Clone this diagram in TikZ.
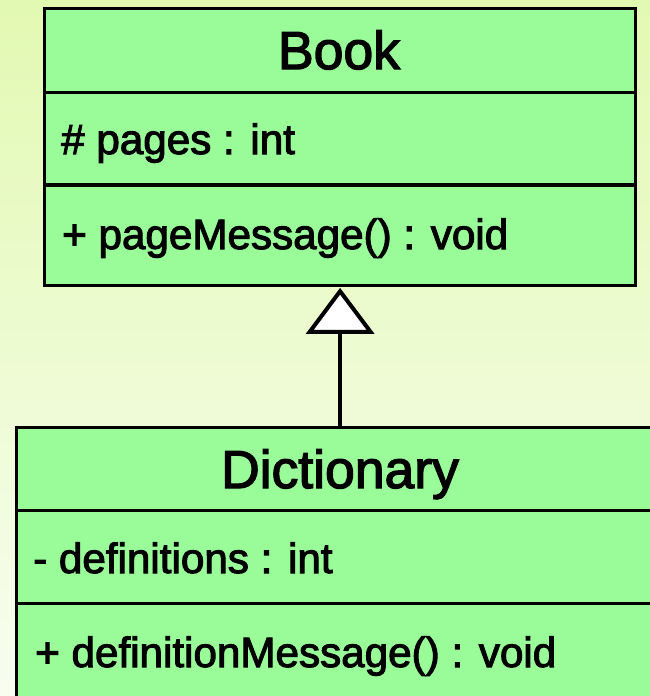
\documentclass[tikz,border=0pt]{standalone}
\usepackage{fontspec}
\setmainfont[FakeBold=2.5]{Liberation Sans}
\usetikzlibrary{arrows.meta}
\definecolor{classfill}{HTML}{99FC99}
\definecolor{bgtop}{HTML}{E2F9B2}
\definecolor{bgbottom}{HTML}{F8FDF0}
\tikzset{
  classbox/.style={draw=black, line width=3.6pt, fill=classfill, rectangle, inner sep=0pt, anchor=north west},
  divider/.style={draw=black, line width=3.4pt},
  classname/.style={anchor=base, inner sep=0pt, font=\fontsize{53.5}{60}\selectfont},
  member/.style={anchor=base west, inner sep=0pt, font=\fontsize{42.2}{50}\selectfont},
  inherits/.style={draw=black, line width=4pt, shorten >=0.5pt,
    -{Triangle[length=46pt, width=68pt, fill=white, line join=miter]}},
}
\begin{document}
\begin{tikzpicture}[x=1pt, y=-1pt]
  \useasboundingbox (0,0) rectangle (650,696);
  \clip (0,0) rectangle (650,696);
  \shade[top color=bgtop, bottom color=bgbottom] (0,0) rectangle (650,696);

  % superclass
  \node[classbox, minimum width=591pt, minimum height=277pt] (book) at (42.8,6.8) {};
  \draw[divider] ([yshift=-85.5pt]book.north west) -- ([yshift=-85.5pt]book.north east);
  \draw[divider] ([yshift=-178pt]book.north west) -- ([yshift=-178pt]book.north east);
  \node[classname] (bookname) at (339,69) {Book};
  \node[member] (bookattr) at (61,154) {\# pages : int};
  \node[member] (bookop) at (62,249) {+ pageMessage() : void};

  % subclass
  \node[classbox, minimum width=660pt, minimum height=300pt] (dict) at (14.8,425.5) {};
  \draw[divider] ([yshift=-85pt]dict.north west) -- ([yshift=-85pt]dict.north east);
  \draw[divider] ([yshift=-178pt]dict.north west) -- ([yshift=-178pt]dict.north east);
  \node[classname] (dictname) at (340,488) {Dictionary};
  \node[member] (dictattr) at (33,573) {- definitions : int};
  \node[member] (dictop) at (35,667) {+ definitionMessage() : void};

  % generalization
  \draw[inherits] (dict.north -| book.south) -- (book.south);
\end{tikzpicture}
\end{document}
